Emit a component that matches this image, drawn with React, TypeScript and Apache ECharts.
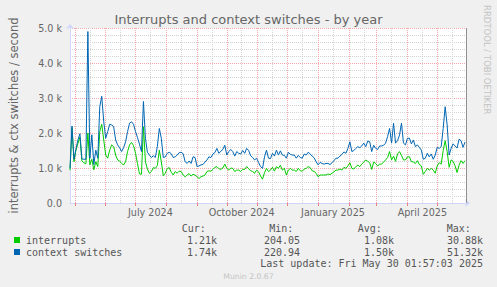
import React, { useEffect, useRef } from 'react';
import * as echarts from 'echarts';

// ---- time range (400-day "year" graph) ----
const START_DATE = '2024-04-26';
const END_DATE = '2025-05-30';
const STEP_DAYS = 2;

// ---- series values, one every 2 days from START_DATE ----
const interrupts = [
  940, 2150, 1180, 1500, 1700, 1880, 1200, 1150, 1120, 2000,
  1090, 1250, 950, 1180, 1040, 2040, 2250, 1800, 1370, 1280,
  1510, 1660, 1610, 1370, 1230, 1200, 1130, 1090, 1180, 1470,
  1660, 1730, 1640, 1420, 1130, 830, 820, 2180, 1180, 970,
  850, 900, 1010, 990, 1070, 1510, 1180, 780, 850, 990,
  1010, 880, 800, 900, 850, 910, 900, 800, 750, 800,
  840, 770, 820, 800, 750, 700, 750, 770, 800, 900,
  920, 910, 960, 1020, 1040, 980, 960, 1000, 1110, 990,
  940, 1000, 990, 900, 940, 940, 900, 960, 960, 1040,
  980, 920, 900, 850, 940, 890, 770, 680, 870, 990,
  900, 940, 1020, 910, 1040, 990, 1080, 940, 990, 800,
  940, 990, 940, 940, 900, 990, 920, 910, 970, 990,
  1040, 1010, 920, 900, 850, 750, 800, 800, 800, 800,
  830, 810, 850, 890, 940, 940, 970, 940, 1020, 990,
  1060, 1150, 990, 970, 1040, 1080, 1040, 1110, 1170, 1230,
  1190, 1150, 960, 1170, 1130, 1060, 1110, 1110, 1170, 1230,
  1300, 1470, 1230, 1340, 1190, 1400, 1470, 1360, 1230, 1230,
  1320, 1320, 1180, 1170, 1130, 1210, 1100, 1060, 820, 900,
  990, 940, 990, 940, 850, 1060, 1150, 1110, 1500, 1780,
  1470, 1020, 1230, 1190, 1060, 870, 1080, 1210, 1130, 1210,
];

const contextSwitches = [
  990, 2200, 1250, 1550, 1800, 1980, 1260, 1250, 1250, 4900,
  1280, 1950, 1100, 1510, 1280, 2750, 3050, 2320, 1850, 2040,
  2250, 2230, 2180, 1800, 1660, 1580, 1470, 1580, 1750, 2040,
  2280, 2320, 2250, 2040, 1870, 1680, 1470, 2900, 1850, 1450,
  1370, 1300, 1350, 1300, 1610, 2130, 1850, 1300, 1320, 1420,
  1450, 1410, 1300, 1320, 1370, 1440, 1450, 1410, 1180, 1130,
  1200, 1130, 1320, 1300, 1040, 1060, 1090, 1100, 1170, 1230,
  1320, 1300, 1400, 1440, 1560, 1420, 1480, 1530, 1650, 1370,
  1470, 1530, 1470, 1340, 1470, 1420, 1400, 1500, 1420, 1560,
  1500, 1350, 1300, 1230, 1280, 1160, 1040, 990, 1320, 1510,
  1280, 1270, 1420, 1340, 1510, 1370, 1490, 1370, 1360, 1280,
  1450, 1390, 1370, 1370, 1280, 1360, 1300, 1280, 1400, 1370,
  1450, 1400, 1340, 1290, 1180, 1090, 1160, 1130, 1110, 1130,
  1130, 1100, 1150, 1210, 1280, 1280, 1340, 1390, 1460, 1420,
  1560, 1750, 1470, 1500, 1560, 1610, 1580, 1630, 1710, 1610,
  1770, 1750, 1470, 1650, 1560, 1530, 1630, 1630, 1650, 1710,
  1900, 2130, 1710, 2280, 1710, 1780, 1940, 2280, 1710, 1660,
  1850, 1850, 1690, 1800, 1610, 1660, 1590, 1510, 1250, 1280,
  1420, 1320, 1400, 1250, 1370, 1590, 1560, 1610, 2130, 2750,
  2230, 1370, 1560, 1690, 1630, 1570, 1820, 1780, 1590, 1740,
];

// ---- axis ticks / labels ----
const monthStarts = [
  '2024-05-01', '2024-06-01', '2024-07-01', '2024-08-01', '2024-09-01', '2024-10-01',
  '2024-11-01', '2024-12-01', '2025-01-01', '2025-02-01', '2025-03-01', '2025-04-01', '2025-05-01',
];
const midMonths = [
  '2024-05-16', '2024-06-16', '2024-07-16', '2024-08-16', '2024-09-16', '2024-10-16',
  '2024-11-16', '2024-12-16', '2025-01-16', '2025-02-16', '2025-03-16', '2025-04-16', '2025-05-16',
];
const labelDates = ['2024-07-16', '2024-10-16', '2025-01-16', '2025-04-16'];
const monthNames = [
  'January', 'February', 'March', 'April', 'May', 'June',
  'July', 'August', 'September', 'October', 'November', 'December',
];

// ---- legend statistics ----
const seriesNames = ['interrupts', 'context switches'];
const statHeaders = ['Cur:', 'Min:', 'Avg:', 'Max:'];
const interruptStats = ['1.21k', '204.05', '1.08k', '30.88k'];
const ctxStats = ['1.74k', '220.94', '1.50k', '51.32k'];
const lastUpdate = 'Last update: Fri May 30 01:57:03 2025';
const titleText = 'Interrupts and context switches - by year';
const yAxisName = 'interrupts & ctx switches / second';

const DAY = 86400000;

export default function App() {
  const ref = useRef<HTMLDivElement>(null);

  useEffect(() => {
    document.body.style.margin = '0';
    if (!ref.current) return;
    const chart = echarts.init(ref.current, undefined, { renderer: 'svg' });

    const start = Date.parse(START_DATE);
    const end = Date.parse(END_DATE);
    const toData = (arr: number[]) => arr.map((v, i) => [start + i * STEP_DAYS * DAY, v]);

    const mono = 'DejaVu Sans Mono';
    const textCol = '#555555';
    const headerX = [181.7, 269.3, 357.7, 446.7];
    const valueRight = [217, 300, 394, 483];

    const graphics: any[] = [
      {
        type: 'text', x: 248.5, y: 19.5,
        style: { text: titleText, fontFamily: 'DejaVu Sans', fontSize: 13, fill: '#666666', align: 'center', verticalAlign: 'middle' },
      },
      {
        type: 'text', x: 487, y: 5, rotation: -Math.PI / 2,
        style: { text: 'RRDTOOL / TOBI OETIKER', fontFamily: 'DejaVu Sans', fontSize: 8.5, fill: '#c4c4c4', align: 'left', verticalAlign: 'middle' },
      },
      {
        type: 'text', x: 248.5, y: 276,
        style: { text: 'Munin 2.0.67', fontFamily: 'DejaVu Sans', fontSize: 7.7, fill: '#c4c4c4', align: 'center', verticalAlign: 'middle' },
      },
      {
        type: 'text', x: 483, y: 263.5,
        style: { text: lastUpdate, fontFamily: mono, fontSize: 10, fill: textCol, align: 'right', verticalAlign: 'middle' },
      },
    ];
    statHeaders.forEach((h, i) => {
      graphics.push({
        type: 'text', x: headerX[i], y: 228,
        style: { text: h, fontFamily: mono, fontSize: 10, fill: textCol, align: 'left', verticalAlign: 'middle' },
      });
    });
    [interruptStats, ctxStats].forEach((row, r) => {
      row.forEach((v, i) => {
        graphics.push({
          type: 'text', x: valueRight[i], y: 240 + r * 12,
          style: { text: v, fontFamily: mono, fontSize: 10, fill: textCol, align: 'right', verticalAlign: 'middle' },
        });
      });
    });

    const majorGrid = { color: '#f2a8a8', type: [1, 1], width: 1 };
    const minorGrid = { color: '#d4d4d4', type: [1, 1], width: 1 };

    const option: any = {
      animation: false,
      backgroundColor: '#f0f0f0',
      textStyle: { fontFamily: 'DejaVu Sans' },
      grid: { left: 67, right: 31, top: 28, bottom: 84, show: true, backgroundColor: '#ffffff', borderWidth: 0 },
      legend: {
        data: seriesNames,
        orient: 'vertical', left: 14, top: 234, padding: 0,
        itemWidth: 6, itemHeight: 6, itemGap: 0, icon: 'rect', selectedMode: false,
        textStyle: { fontFamily: mono, fontSize: 10, color: textCol, lineHeight: 12, padding: [0, 0, 0, 1] },
      },
      xAxis: {
        type: 'value', min: start, max: end,
        axisLine: {
          show: true, lineStyle: { color: '#cfd6f8', width: 1 },
          symbol: ['none', 'arrow'], symbolSize: [6, 5], symbolOffset: [0, 4],
        },
        axisTick: { show: true, customValues: monthStarts.map((d) => Date.parse(d)), length: 3, lineStyle: { color: '#f08080' } },
        axisLabel: {
          customValues: labelDates.map((d) => Date.parse(d)),
          formatter: (v: number) => {
            const d = new Date(v);
            return monthNames[d.getUTCMonth()] + ' ' + d.getUTCFullYear();
          },
          color: '#666666', fontSize: 9.6, margin: 4,
        },
        splitLine: { show: false },
      },
      yAxis: {
        type: 'value', min: 0, max: 5000, interval: 1000,
        name: yAxisName, nameLocation: 'middle', nameGap: 50,
        nameTextStyle: { color: '#666666', fontSize: 11.5, fontFamily: 'DejaVu Sans' },
        axisLine: {
          show: true, lineStyle: { color: '#cfd6f8', width: 1 },
          symbol: ['none', 'arrow'], symbolSize: [6, 5], symbolOffset: [0, 4],
        },
        axisTick: { show: false },
        axisLabel: {
          formatter: (v: number) => (v === 0 ? '0.0' : (v / 1000).toFixed(1) + ' k'),
          color: '#666666', fontSize: 9.6, margin: 8,
        },
        splitLine: { show: true, lineStyle: majorGrid },
        minorTick: { show: false, splitNumber: 5 },
        minorSplitLine: { show: true, lineStyle: minorGrid },
      },
      series: [
        {
          name: 'grid', type: 'line', data: [[start, 0]], symbol: 'none', silent: true, z: 1,
          lineStyle: { width: 0, opacity: 0 },
          markLine: {
            silent: true, symbol: ['none', 'none'], label: { show: false }, z: 1,
            emphasis: { disabled: true },
            data: [
              ...midMonths.map((d) => ({ xAxis: Date.parse(d), lineStyle: minorGrid })),
              ...monthStarts.map((d) => ({ xAxis: Date.parse(d), lineStyle: majorGrid })),
              { xAxis: end, lineStyle: { color: '#909090', type: 'solid', width: 1 } },
            ],
          },
        },
        {
          name: seriesNames[0], type: 'line', data: toData(interrupts),
          symbol: 'none', showSymbol: false, z: 3,
          lineStyle: { color: '#00cc00', width: 1 }, itemStyle: { color: '#00cc00' },
          emphasis: { disabled: true },
        },
        {
          name: seriesNames[1], type: 'line', data: toData(contextSwitches),
          symbol: 'none', showSymbol: false, z: 4,
          lineStyle: { color: '#0066b3', width: 1 }, itemStyle: { color: '#0066b3' },
          emphasis: { disabled: true },
        },
      ],
      graphic: graphics,
    };

    chart.setOption(option);
    return () => chart.dispose();
  }, []);

  return <div ref={ref} style={{ position: 'fixed', left: 0, top: 0, width: 497, height: 287 }} />;
}
